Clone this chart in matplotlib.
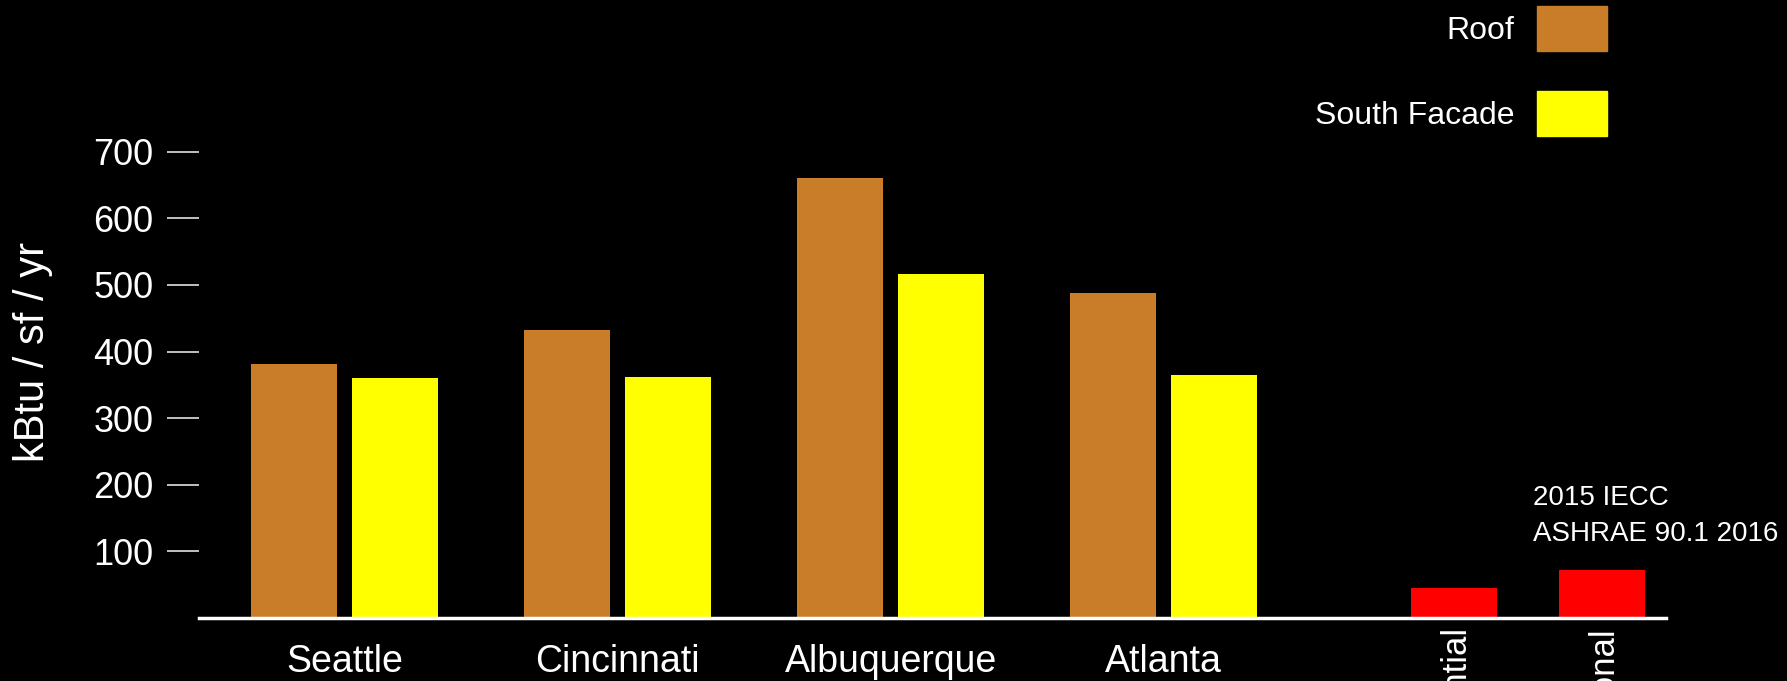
import matplotlib.pyplot as plt
from matplotlib.patches import Patch

# Data
cities = ["Seattle", "Cincinnati", "Albuquerque", "Atlanta"]
roof = [381, 432, 660, 488]
south_facade = [360, 362, 516, 365]
code_labels = ["Residential", "Institutional"]
code_values = [45, 72]
y_ticks = [100, 200, 300, 400, 500, 600, 700]

ROOF_COLOR = "#CA7D28"
FACADE_COLOR = "#FFFF00"
CODE_COLOR = "#FF0000"


def main():
    plt.rcParams["font.family"] = ["Liberation Sans", "DejaVu Sans"]

    fig = plt.figure(figsize=(17.87, 6.81), dpi=100, facecolor="black")
    ax = fig.add_axes([0.1114, 0.0925, 0.8209, 0.7826], facecolor="black")

    width = 0.315
    offset = 0.185
    centers = list(range(len(cities)))
    code_pos = [4.064, 4.606]

    ax.bar([c - offset for c in centers], roof, width, color=ROOF_COLOR)
    ax.bar([c + offset for c in centers], south_facade, width, color=FACADE_COLOR)
    ax.bar(code_pos, code_values, width, color=CODE_COLOR)

    ax.set_xlim(-0.533, 4.839)
    ax.set_ylim(0, 800)

    # axes styling: only a bottom line, y ticks without spine
    for side in ["top", "right", "left"]:
        ax.spines[side].set_visible(False)
    ax.spines["bottom"].set_color("white")
    ax.spines["bottom"].set_linewidth(2.5)

    ax.set_yticks(y_ticks)
    ax.tick_params(axis="y", colors="#d0d0d0", length=23, width=1.3,
                   pad=10, labelsize=26, labelcolor="white")

    ax.set_xticks(centers + code_pos)
    ax.set_xticklabels(cities + code_labels)
    ax.tick_params(axis="x", length=0, pad=19, labelsize=27, labelcolor="white")
    ticks = ax.xaxis.get_major_ticks()
    for tick in ticks[len(cities):]:
        tick.set_pad(5)
        tick.label1.set_rotation(90)
        tick.label1.set_va("top")
        tick.label1.set_fontsize(25)

    ax.set_ylabel("kBtu / sf / yr", color="white", fontsize=30, labelpad=29)

    ax.text(4.353, 106, "2015 IECC\nASHRAE 90.1 2016", color="white",
            fontsize=20, ha="left", va="bottom", linespacing=1.5)

    handles = [Patch(color=ROOF_COLOR), Patch(color=FACADE_COLOR)]
    fig.legend(handles, ["Roof", "South Facade"], loc="upper right",
               bbox_to_anchor=(0.8993, 0.9912), frameon=False, markerfirst=False,
               fontsize=23, labelcolor="white", handlelength=2.19,
               handleheight=1.8, labelspacing=1.24, handletextpad=0.7,
               borderpad=0, borderaxespad=0)

    fig.savefig("out.png", dpi=100, facecolor="black")


if __name__ == "__main__":
    main()
